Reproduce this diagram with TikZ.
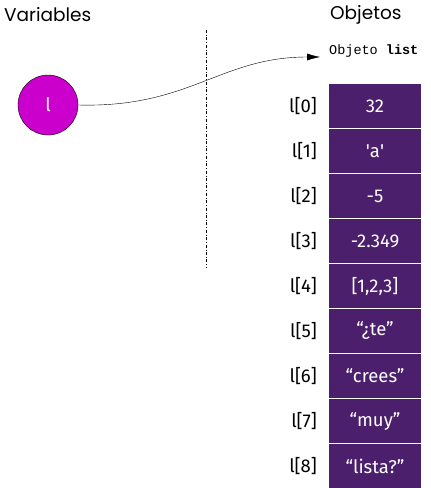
\documentclass[tikz,border=0pt]{standalone}
\usepackage{fontspec}
\setmainfont{Fira Sans}
\newfontfamily\headfont{Poppins}
\setmonofont{Liberation Mono}
\usetikzlibrary{arrows.meta}
\definecolor{celda}{HTML}{4B1F6B}
\definecolor{varcol}{HTML}{CC00CC}
\tikzset{
  celda/.style={rectangle,fill=celda,text=white,minimum width=92pt,minimum height=44pt,inner sep=0pt,font=\fontsize{18.5}{22}\selectfont},
  indice/.style={anchor=east,inner sep=0pt,font=\fontsize{18.5}{22}\selectfont},
  titulo/.style={anchor=west,inner sep=0pt,font=\headfont\fontsize{18.5}{22}\selectfont}
}
\begin{document}
\begin{tikzpicture}[x=1pt,y=-1pt]
      \useasboundingbox (0,0) rectangle (431,488);
      \node[titulo] (tvar) at (4,15) {Variables};
      \node[titulo] (tobj) at (330,15) {Objetos};
      \draw[dash dot] (206,30) -- (206,268);
      \node[circle,draw,fill=varcol,minimum size=60pt,inner sep=0pt,text=white,font=\fontsize{18.5}{22}\selectfont] (l) at (48,105) {l};
      \node[anchor=west,inner sep=0pt,font=\ttfamily\fontsize{13.5}{16}\selectfont] (tipo) at (329,51) {Objeto \textbf{list}};
      \coordinate (punta) at (320,57);
      \draw[-{Latex[length=13pt,width=7pt]}] (l.east) .. controls (190,108) and (220,57) .. (punta);
      \node[celda] (c0) at (375,106) {32};      \node[indice] (i0) at (317,106) {l[0]};
      \node[celda] (c1) at (375,151) {\textquotesingle a\textquotesingle}; \node[indice] (i1) at (317,151) {l[1]};
      \node[celda] (c2) at (375,196) {-5};      \node[indice] (i2) at (317,196) {l[2]};
      \node[celda] (c3) at (375,241) {-2.349};  \node[indice] (i3) at (317,241) {l[3]};
      \node[celda] (c4) at (375,286) {[1,2,3]}; \node[indice] (i4) at (317,286) {l[4]};
      \node[celda] (c5) at (375,331) {“¿te”};   \node[indice] (i5) at (317,331) {l[5]};
      \node[celda] (c6) at (375,376) {“crees”}; \node[indice] (i6) at (317,376) {l[6]};
      \node[celda] (c7) at (375,421) {“muy”};   \node[indice] (i7) at (317,421) {l[7]};
      \node[celda] (c8) at (375,466) {“lista?”};\node[indice] (i8) at (317,466) {l[8]};
     \end{tikzpicture}
\end{document}
